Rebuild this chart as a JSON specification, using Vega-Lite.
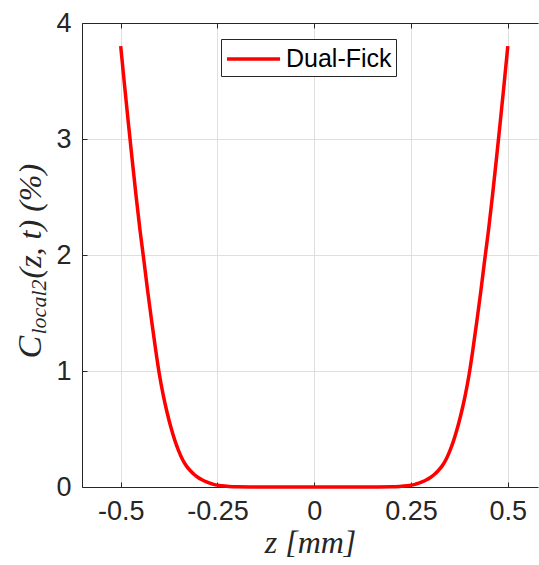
{
  "$schema": "https://vega.github.io/schema/vega-lite/v6.json",
  "autosize": "none",
  "padding": {"left": 82, "top": 23, "right": 1, "bottom": 78},
  "width": 456,
  "height": 464,
  "background": "white",
  "config": {"view": {"stroke": null}},
  "data": {"values": [
    {"z": -0.50, "c": 3.80, "series": "Dual-Fick"},
    {"z": -0.49, "c": 3.46, "series": "Dual-Fick"},
    {"z": -0.48, "c": 3.13, "series": "Dual-Fick"},
    {"z": -0.47, "c": 2.81, "series": "Dual-Fick"},
    {"z": -0.46, "c": 2.50, "series": "Dual-Fick"},
    {"z": -0.45, "c": 2.21, "series": "Dual-Fick"},
    {"z": -0.44, "c": 1.95, "series": "Dual-Fick"},
    {"z": -0.43, "c": 1.68, "series": "Dual-Fick"},
    {"z": -0.42, "c": 1.43, "series": "Dual-Fick"},
    {"z": -0.41, "c": 1.19, "series": "Dual-Fick"},
    {"z": -0.40, "c": 0.97, "series": "Dual-Fick"},
    {"z": -0.39, "c": 0.79, "series": "Dual-Fick"},
    {"z": -0.38, "c": 0.64, "series": "Dual-Fick"},
    {"z": -0.37, "c": 0.51, "series": "Dual-Fick"},
    {"z": -0.36, "c": 0.40, "series": "Dual-Fick"},
    {"z": -0.35, "c": 0.31, "series": "Dual-Fick"},
    {"z": -0.34, "c": 0.235, "series": "Dual-Fick"},
    {"z": -0.33, "c": 0.18, "series": "Dual-Fick"},
    {"z": -0.32, "c": 0.14, "series": "Dual-Fick"},
    {"z": -0.31, "c": 0.108, "series": "Dual-Fick"},
    {"z": -0.30, "c": 0.082, "series": "Dual-Fick"},
    {"z": -0.29, "c": 0.062, "series": "Dual-Fick"},
    {"z": -0.28, "c": 0.046, "series": "Dual-Fick"},
    {"z": -0.27, "c": 0.033, "series": "Dual-Fick"},
    {"z": -0.26, "c": 0.023, "series": "Dual-Fick"},
    {"z": -0.25, "c": 0.016, "series": "Dual-Fick"},
    {"z": -0.24, "c": 0.011, "series": "Dual-Fick"},
    {"z": -0.22, "c": 0.005, "series": "Dual-Fick"},
    {"z": -0.20, "c": 0.002, "series": "Dual-Fick"},
    {"z": -0.15, "c": 0.0004, "series": "Dual-Fick"},
    {"z": -0.10, "c": 0.0001, "series": "Dual-Fick"},
    {"z": -0.05, "c": 0.0, "series": "Dual-Fick"},
    {"z": 0.00, "c": 0.0, "series": "Dual-Fick"},
    {"z": 0.05, "c": 0.0, "series": "Dual-Fick"},
    {"z": 0.10, "c": 0.0001, "series": "Dual-Fick"},
    {"z": 0.15, "c": 0.0004, "series": "Dual-Fick"},
    {"z": 0.20, "c": 0.002, "series": "Dual-Fick"},
    {"z": 0.22, "c": 0.005, "series": "Dual-Fick"},
    {"z": 0.24, "c": 0.011, "series": "Dual-Fick"},
    {"z": 0.25, "c": 0.016, "series": "Dual-Fick"},
    {"z": 0.26, "c": 0.023, "series": "Dual-Fick"},
    {"z": 0.27, "c": 0.033, "series": "Dual-Fick"},
    {"z": 0.28, "c": 0.046, "series": "Dual-Fick"},
    {"z": 0.29, "c": 0.062, "series": "Dual-Fick"},
    {"z": 0.30, "c": 0.082, "series": "Dual-Fick"},
    {"z": 0.31, "c": 0.108, "series": "Dual-Fick"},
    {"z": 0.32, "c": 0.14, "series": "Dual-Fick"},
    {"z": 0.33, "c": 0.18, "series": "Dual-Fick"},
    {"z": 0.34, "c": 0.235, "series": "Dual-Fick"},
    {"z": 0.35, "c": 0.31, "series": "Dual-Fick"},
    {"z": 0.36, "c": 0.40, "series": "Dual-Fick"},
    {"z": 0.37, "c": 0.51, "series": "Dual-Fick"},
    {"z": 0.38, "c": 0.64, "series": "Dual-Fick"},
    {"z": 0.39, "c": 0.79, "series": "Dual-Fick"},
    {"z": 0.40, "c": 0.97, "series": "Dual-Fick"},
    {"z": 0.41, "c": 1.19, "series": "Dual-Fick"},
    {"z": 0.42, "c": 1.43, "series": "Dual-Fick"},
    {"z": 0.43, "c": 1.68, "series": "Dual-Fick"},
    {"z": 0.44, "c": 1.95, "series": "Dual-Fick"},
    {"z": 0.45, "c": 2.21, "series": "Dual-Fick"},
    {"z": 0.46, "c": 2.50, "series": "Dual-Fick"},
    {"z": 0.47, "c": 2.81, "series": "Dual-Fick"},
    {"z": 0.48, "c": 3.13, "series": "Dual-Fick"},
    {"z": 0.49, "c": 3.46, "series": "Dual-Fick"},
    {"z": 0.50, "c": 3.80, "series": "Dual-Fick"}
  ]},
  "layer": [
    {
      "mark": {"type": "line", "strokeWidth": 3.5, "interpolate": "monotone"},
      "encoding": {
        "x": {
          "field": "z", "type": "quantitative",
          "scale": {"domain": [-0.6, 0.578], "nice": false, "zero": false},
          "axis": {
            "orient": "bottom", "values": [-0.5, -0.25, 0, 0.25, 0.5],
            "labelExpr": "toString(datum.value)",
            "grid": true, "gridColor": "#dfdfdf", "gridWidth": 1,
            "domainColor": "#262626", "domainWidth": 1,
            "tickColor": "#262626", "tickSize": -5, "tickWidth": 1,
            "labelFont": "Liberation Sans", "labelFontSize": 27, "labelColor": "#262626",
            "labelPadding": 16, "labelFlush": false, "labelOverlap": false,
            "title": "z [mm]", "titleFont": "Liberation Serif", "titleFontStyle": "italic",
            "titleFontWeight": "normal", "titleFontSize": 32, "titleColor": "#262626", "titlePadding": 3
          }
        },
        "y": {
          "field": "c", "type": "quantitative",
          "scale": {"domain": [0, 4], "nice": false},
          "axis": {
            "orient": "left", "values": [0, 1, 2, 3, 4],
            "grid": true, "gridColor": "#dfdfdf", "gridWidth": 1,
            "domainColor": "#262626", "domainWidth": 1,
            "tickColor": "#262626", "tickSize": -5, "tickWidth": 1,
            "labelFont": "Liberation Sans", "labelFontSize": 27, "labelColor": "#262626",
            "labelPadding": 16, "labelFlush": false, "labelOverlap": false,
            "title": "C", "titleFont": "Liberation Serif", "titleFontStyle": "italic",
            "titleFontWeight": "normal", "titleFontSize": 34, "titleColor": "#262626",
            "titleAngle": 270, "titleX": -42, "titleY": 335, "titleAlign": "left", "titleBaseline": "alphabetic"
          }
        },
        "color": {
          "field": "series", "type": "nominal",
          "scale": {"range": ["#ff0000"]},
          "legend": {
            "orient": "none", "legendX": 139, "legendY": 16, "title": null,
            "symbolType": "M-1,0H2.79", "symbolSize": 784, "symbolStrokeWidth": 3.5,
            "symbolStrokeColor": "#ff0000", "symbolFillColor": "transparent",
            "labelFont": "Liberation Sans", "labelFontSize": 25, "labelColor": "#000000",
            "labelOffset": 29, "padding": 4, "strokeColor": "#262626", "fillColor": "white"
          }
        }
      }
    },
    {
      "mark": {"type": "line", "strokeOpacity": 0},
      "encoding": {
        "x": {
          "field": "z", "type": "quantitative",
          "axis": {
            "orient": "top", "values": [-0.5, -0.25, 0, 0.25, 0.5],
            "labels": false, "grid": false,
            "domainColor": "#262626", "domainWidth": 1,
            "tickColor": "#262626", "tickSize": -5, "tickWidth": 1,
            "title": "local2", "titleFont": "Liberation Serif", "titleFontStyle": "italic",
            "titleFontWeight": "normal", "titleFontSize": 22, "titleColor": "#262626",
            "titleAngle": 270, "titleX": -37, "titleY": 311, "titleAlign": "left", "titleBaseline": "alphabetic"
          }
        },
        "y": {
          "field": "c", "type": "quantitative",
          "axis": {
            "orient": "right", "domain": false, "ticks": false, "labels": false, "grid": false,
            "title": "(z, t) (%)", "titleFont": "Liberation Serif", "titleFontStyle": "italic",
            "titleFontWeight": "normal", "titleFontSize": 32, "titleColor": "#262626",
            "titleAngle": 270, "titleX": -498, "titleY": 255, "titleAlign": "left", "titleBaseline": "alphabetic"
          }
        }
      }
    }
  ],
  "resolve": {"axis": {"x": "independent", "y": "independent"}}
}
